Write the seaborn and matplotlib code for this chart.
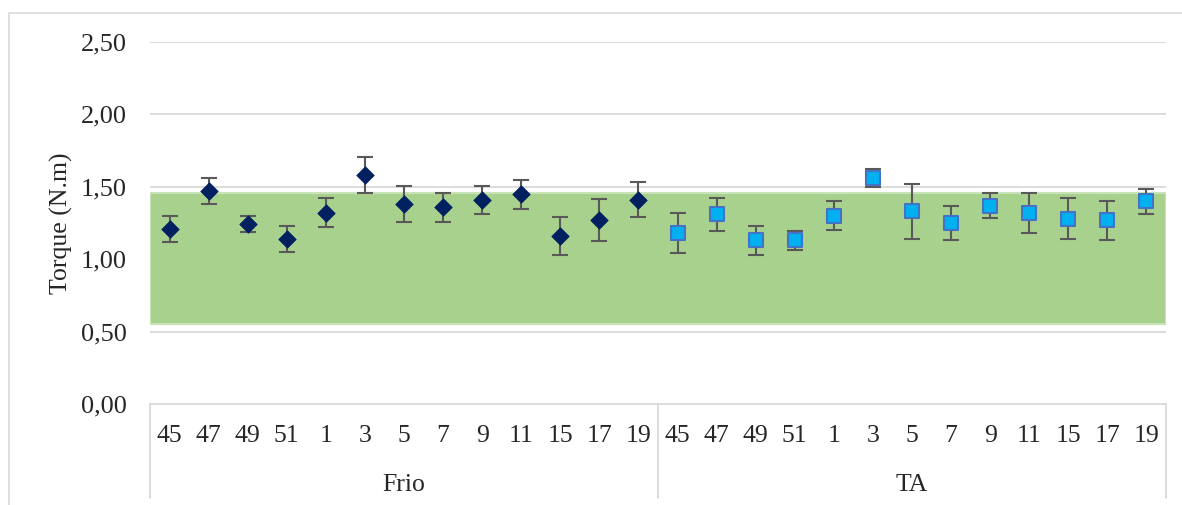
import numpy as np
import pandas as pd
import matplotlib
matplotlib.use("Agg")
import matplotlib.pyplot as plt
from matplotlib.patches import Rectangle
from matplotlib.transforms import blended_transform_factory
import seaborn as sns

# Sample points and group labels
points = ["45", "47", "49", "51", "1", "3", "5", "7", "9", "11", "15", "17", "19"]
groups = ["Frio", "TA"]

# Mean torque (N.m) and error (±) for each group
frio_mean = [1.21, 1.47, 1.24, 1.14, 1.32, 1.58, 1.38, 1.36, 1.41, 1.45, 1.16, 1.27, 1.41]
frio_err = [0.09, 0.09, 0.055, 0.09, 0.10, 0.125, 0.125, 0.10, 0.095, 0.10, 0.13, 0.145, 0.12]
ta_mean = [1.18, 1.31, 1.13, 1.13, 1.30, 1.56, 1.33, 1.25, 1.37, 1.32, 1.28, 1.27, 1.40]
ta_err = [0.14, 0.115, 0.10, 0.065, 0.10, 0.062, 0.19, 0.115, 0.085, 0.14, 0.14, 0.135, 0.085]

# Acceptable torque range (shaded band)
band_low, band_high = 0.555, 1.458

yticks = [0.0, 0.5, 1.0, 1.5, 2.0, 2.5]

n = len(points)
df = pd.DataFrame({
    "pos": np.arange(2 * n),
    "label": points + points,
    "group": [groups[0]] * n + [groups[1]] * n,
    "mean": frio_mean + ta_mean,
    "err": frio_err + ta_err,
})

sns.set_theme(style="white")
plt.rcParams["font.family"] = ["Liberation Serif", "DejaVu Serif"]

W, H = 1182, 505
fig = plt.figure(figsize=(W / 100, H / 100), dpi=100)
left, right, bottom, top = 150, 1166, 404, 42
ax = fig.add_axes([left / W, 1 - bottom / H, (right - left) / W, (bottom - top) / H])

# Outer chart frame
fig.patches.append(Rectangle((9 / W, -0.1), 1.2, 1 - 13 / H + 0.1,
                             transform=fig.transFigure, fill=False,
                             edgecolor="#d9d9d9", linewidth=1.2, zorder=0))

ax.set_xlim(-0.5, 2 * n - 0.5)
ax.set_ylim(0, 2.5)

# Gridlines
for yv in yticks[1:]:
    ax.axhline(yv, color="#d9d9d9", linewidth=1.3, zorder=0)
ax.axhline(0, color="#d9d9d9", linewidth=1.3, zorder=0, clip_on=False)

# Reference band
ax.axhspan(band_low, band_high, facecolor="#a9d18e", edgecolor="#c9e3b8",
           linewidth=1.5, zorder=1)

# Error bars
ax.errorbar(df["pos"], df["mean"], yerr=df["err"], fmt="none",
            ecolor="#595959", elinewidth=1.5, capsize=6, capthick=1.5, zorder=3)

# Markers
sns.scatterplot(data=df[df["group"] == "Frio"], x="pos", y="mean", ax=ax,
                marker="D", s=80, color="#002060", edgecolor="#002060",
                linewidth=0.5, zorder=4, legend=False)
sns.scatterplot(data=df[df["group"] == "TA"], x="pos", y="mean", ax=ax,
                marker="s", s=112, color="#00b0f0", edgecolor="#4472c4",
                linewidth=1.5, zorder=4, legend=False)

for s in ax.spines.values():
    s.set_visible(False)

ax.set_yticks(yticks)
ax.set_yticklabels([f"{v:.2f}".replace(".", ",") for v in yticks], fontsize=19)
ax.tick_params(axis="y", length=0, pad=16.5)
ax.set_xticks([])
ax.set_xlabel("")
ax.set_ylabel("Torque (N.m)", fontsize=18.5, labelpad=6)

# Two-level category axis
tr = blended_transform_factory(ax.transData, ax.transAxes)
for p, lab in zip(df["pos"], df["label"]):
    ax.text(p, -0.088, lab, transform=tr, ha="center", va="center", fontsize=18.5)
for gi, g in enumerate(groups):
    ax.text(gi * n + (n - 1) / 2, -0.225, g, transform=tr, ha="center",
            va="center", fontsize=18.5)
sep_bottom = -(498 - bottom) / (bottom - top)
for xs in [-0.5, n - 0.5, 2 * n - 0.5]:
    ax.plot([xs, xs], [0, sep_bottom], transform=tr, color="#d9d9d9",
            linewidth=1.3, clip_on=False, zorder=0)

ax.set_facecolor("white")
fig.savefig("out.png", dpi=100, facecolor="white")
